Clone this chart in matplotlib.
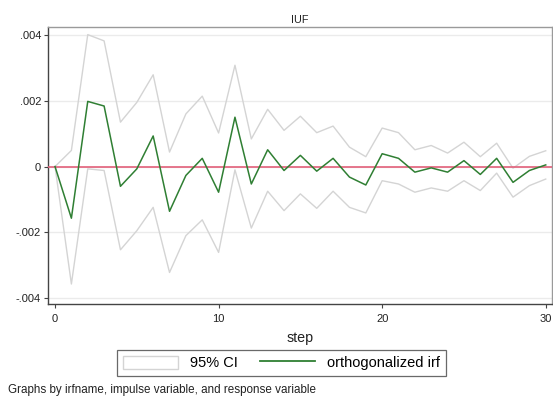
import matplotlib.pyplot as plt
from matplotlib.patches import Patch
from matplotlib.lines import Line2D

plt.rcParams['font.family'] = ['Liberation Sans', 'DejaVu Sans']

# impulse response
step = list(range(31))
irf = [0, -0.00157, 0.00198, 0.00184, -0.00060, -0.00007, 0.00093, -0.00136,
       -0.00027, 0.00025, -0.00078, 0.00150, -0.00053, 0.00051, -0.00012,
       0.00034, -0.00014, 0.00025, -0.00032, -0.00056, 0.00039, 0.00025,
       -0.00017, -0.00004, -0.00017, 0.00018, -0.00024, 0.00025, -0.00048,
       -0.00012, 0.00005]
ci_upper = [0, 0.00049, 0.00401, 0.00382, 0.00135, 0.00195, 0.00279, 0.00044,
            0.00160, 0.00214, 0.00102, 0.00308, 0.00084, 0.00174, 0.00110,
            0.00153, 0.00103, 0.00123, 0.00059, 0.00030, 0.00117, 0.00103,
            0.00051, 0.00064, 0.00041, 0.00074, 0.00030, 0.00071, -0.00005,
            0.00031, 0.00048]
ci_lower = [0, -0.00357, -0.00007, -0.00012, -0.00253, -0.00195, -0.00124, -0.00322,
            -0.00210, -0.00162, -0.00261, -0.00010, -0.00187, -0.00075, -0.00134,
            -0.00083, -0.00127, -0.00075, -0.00124, -0.00141, -0.00043, -0.00053,
            -0.00078, -0.00065, -0.00075, -0.00043, -0.00073, -0.00020, -0.00093,
            -0.00058, -0.00038]

yticks = [-0.004, -0.002, 0, 0.002, 0.004]
ytick_labels = ['-.004', '-.002', '0', '.002', '.004']
xticks = [0, 10, 20, 30]

ci_color = '#d4d4d4'
irf_color = '#2f7f33'
zero_color = '#e2607a'

fig = plt.figure(figsize=(5.53, 3.98), dpi=100)
ax = fig.add_axes([0.0868, 0.236, 0.911, 0.696])

for y in yticks:
    ax.axhline(y, color='#ebebeb', lw=1.0, zorder=0)

ax.plot(step, ci_upper, color=ci_color, lw=1.0, zorder=2)
ax.plot(step, ci_lower, color=ci_color, lw=1.0, zorder=2)
ax.axhline(0, color=zero_color, lw=1.2, zorder=3)
ax.plot(step, irf, color=irf_color, lw=1.1, zorder=4)

ax.set_xlim(-0.43, 30.37)
ax.set_ylim(-0.00418, 0.00424)
ax.set_xticks(xticks)
ax.set_xticklabels([str(x) for x in xticks], fontsize=8)
ax.set_yticks(yticks)
ax.set_yticklabels(ytick_labels, fontsize=8)
ax.tick_params(length=3, width=0.8, color='#444444', labelcolor='#222222', pad=2)
ax.tick_params(axis='x', pad=4)

for side in ['top', 'right']:
    ax.spines[side].set_color('#9a9a9a')
    ax.spines[side].set_linewidth(1.0)
for side in ['left', 'bottom']:
    ax.spines[side].set_color('#444444')
    ax.spines[side].set_linewidth(1.0)

ax.set_title('IUF', fontsize=7.8, color='#222222', pad=3)
ax.set_xlabel('step', fontsize=10.3, color='#222222', labelpad=5)

handles = [Patch(facecolor='white', edgecolor=ci_color, lw=1.0),
           Line2D([0], [0], color=irf_color, lw=1.3)]
leg = fig.legend(handles, ['95% CI', 'orthogonalized irf'], loc='center',
                 bbox_to_anchor=(0.509, 0.088), ncol=2, fontsize=10.5,
                 frameon=True, fancybox=False, handlelength=3.8,
                 handleheight=1.0, columnspacing=1.5, borderpad=0.4)
leg.get_frame().set_edgecolor('#444444')
leg.get_frame().set_linewidth(0.9)

fig.text(0.014, 0.02, 'Graphs by irfname, impulse variable, and response variable',
         fontsize=8.4, color='#222222', ha='left', va='center')

fig.savefig('out.png', dpi=100)
